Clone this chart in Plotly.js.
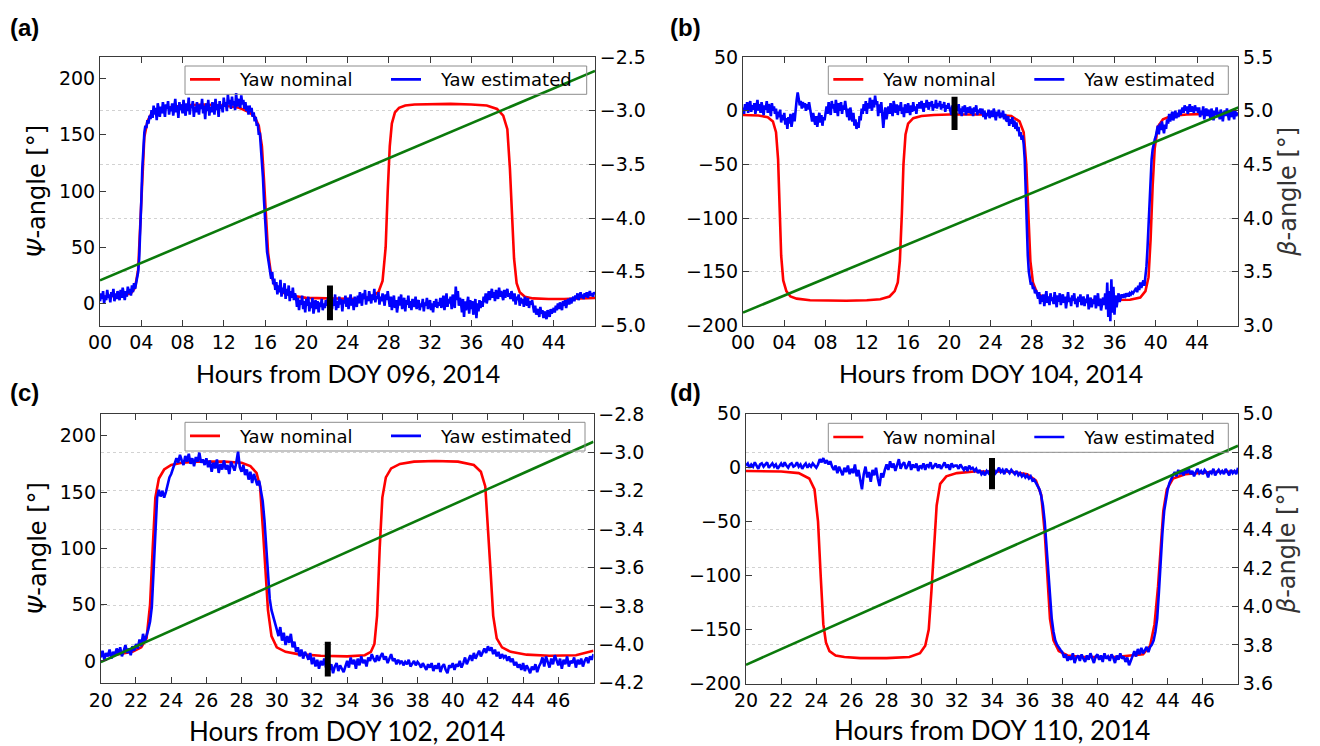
<!DOCTYPE html>
<html><head><meta charset="utf-8">
<script src="https://cdn.plot.ly/plotly-3.0.1.min.js"></script>
<style>html,body{margin:0;padding:0;background:#fff;}#chart{width:1320px;height:746px;}</style>
</head><body><div id="chart"></div>
<script>
// ---------- tick labels ----------
const hourTicksAB = [0,4,8,12,16,20,24,28,32,36,40,44];
const hourLabelsAB = ['00','04','08','12','16','20','24','28','32','36','40','44'];
const hourTicksCD = [20,22,24,26,28,30,32,34,36,38,40,42,44,46];
const hourLabelsCD = ['20','22','24','26','28','30','32','34','36','38','40','42','44','46'];
const psiTicksAC = [0,50,100,150,200];
const yawTicksBD = [-200,-150,-100,-50,0,50];
const betaTicksA = [-5.0,-4.5,-4.0,-3.5,-3.0,-2.5];
const betaTicksB = [3.0,3.5,4.0,4.5,5.0,5.5];
const betaTicksC = [-4.2,-4.0,-3.8,-3.6,-3.4,-3.2,-3.0,-2.8];
const betaTicksD = [3.6,3.8,4.0,4.2,4.4,4.6,4.8,5.0];

// ---------- panel (a) DOY 096 ----------
const nomAx = [0,2,3,3.4,3.7,3.9,4.1,4.3,4.6,5.0,5.6,6.5,8,10,12,13.5,14.5,15.0,15.4,15.7,15.9,16.1,16.3,16.6,17.0,17.6,18.5,20,23,25,26.3,27.0,27.4,27.7,27.9,28.1,28.3,28.6,29.0,29.6,30.5,32,34,36,37.5,38.5,39.1,39.5,39.75,39.95,40.15,40.4,40.7,41.2,42,43.5,45,48];
const nomAy = [6,7,9,14,30,70,120,148,162,169,172,174,176,177,176,174,170,166,158,140,110,75,45,25,15,10,7,5,4,4,6,10,20,50,100,140,160,170,174,176,177,177.5,177.5,177,176,173,167,155,120,80,40,18,10,6,4.5,4,4,5];
// estimated yaw, one value every 0.1 h from 0.0 h
const estA = [
 2,9,4,11,0,7,3,12,5,8, 1,10,6,13,2,9,4,11,7,3, 12,5,14,8,3,11,6,15,9,13, 7,16,10,18,13,
 18,24,28,40,60,90,120,140,152,158,156,163,160,167,164,
 172,165,176,168,174,163,178,170,166,175, 169,179,171,166,177,173,180,168,175,171,
 178,167,174,182,170,176,165,179,172,177, 169,181,173,167,178,171,183,168,176,174,
 180,166,175,170,179,172,168,177,173,182, 169,176,164,178,171,181,167,175,170,179,
 174,168,182,172,177,166,180,173,176,170, 183,175,179,171,186,177,181,173,184,176,
 180,172,187,175,182,178,174,185,177,181, 173,179,171,176,168,
 176,170,174,166,170,162,166,158,160,150,152,140,128,112,92,75,58,46,40,33,30,22,28,17,22,
 12,19,8,16,10,21,6,14,9,18, 4,13,7,16,2,11,5,14,3,9, 6,
 -3,5,-6,3,-1,7,-5,2,-8, 4,-2,6,-7,1,-4,5,-9,0,3, -5,2,-8,1,-3,4,-6,0,-4,3,-2,
 5,-3,7,0,-5,4,-2,8,-6,
 2,-4,6,-1,4,-7,3,0,7,-3, 5,-5,2,8,-2,4,-6,6,1,-3, 7,0,10,3,-2,9,4,12,-1,6,
 2,11,5,0,8,3,13,1,7,4, 10,-1,6,2,9,5,-2,8,3,11, 4,-3,6,-6,2,7,-4,3,-8,1,
 6,-2,8,-5,0,5,-7,3,-1,7, -4,2,-6,4,0,-3,6,-5,1,3, -6,0,-3,4,-7,1,-2,5,-5,-1,
 3,-6,0,-8,2,-3,4,-4,1,-2, 5,-4,2,7,-6,3,9,-3,4,0, 6,-5,8,2,-4,15,3,11,-2,5,
 1,-8,4,-12,2,-6,0,6,-9,3, -5,2,-10,-3,4,-13,0,-7,3,-4, 2,-3,6,1,9,0,7,11,3,8,
 13,5,10,2,12,7,4,14,6,11, 8,3,12,5,10,13,6,9,4,11, 7,2,9,-1,6,3,8,-2,5,0,
 4,-3,6,1,-2,5,-4,2,-1,3, -4,-8,-2,-10,-5,-7,-12,-3,-9,-6, -13,-7,-11,-14,-6,-10,-12,-5,-9,-7,
 -4,-8,-2,-6,0,-5,1,-3,-6,2, -2,3,-4,1,4,-1,5,0,3,6, 2,7,4,9,3,6,10,5,8,4,
 9,6,10,5,8,11,7,9,6,10,8];
const markAx = [22.3,22.3], markAy = [-15,16];
const betaAx = [0,48], betaAy = [-4.58,-2.63];

// ---------- panel (b) DOY 104 ----------
const nomBx = [0,1.5,2.4,2.9,3.2,3.4,3.55,3.7,3.9,4.2,4.6,5.2,6.5,8,10,12,13.3,14.2,14.7,15.0,15.2,15.4,15.55,15.75,16.0,16.5,17.3,18.5,20,24,26,26.8,27.2,27.45,27.65,27.85,28.1,28.5,29.2,30.5,33,36,37.5,38.5,39.0,39.3,39.5,39.7,39.9,40.2,40.7,41.5,43,45,48];
const nomBy = [-4,-4.5,-6,-10,-20,-45,-90,-135,-158,-168,-173,-175,-176.5,-177,-177,-176.5,-175.5,-173,-168,-160,-140,-95,-50,-22,-12,-7,-5,-4,-3.5,-3.5,-5,-10,-20,-50,-100,-140,-160,-170,-174,-175.5,-176.5,-176.5,-176,-174,-168,-155,-120,-70,-35,-15,-8,-5,-3.5,-3,-3];
const estB = [
 3,-3,6,0,8,-2,4,9,-1,5, 1,7,-3,4,10,0,6,-2,8,2, -4,5,1,9,-2,6,3,-5,7,0, 4,
 -3,2,-8,-1,-6,1,-11,-4,-9, -2,-13,-7,-17,-6,-12,-3,-15,-8,-2,-10,
 4,10,17,12,5,9,2,8,3, 7,0,6,1,8,-1,
 -4,-10,-2,-8, -13,-5,-15,-7,-2,-11,-4,-14,-6,-9,0,
 4,-3,8,1,-4,9,2,6,-2, 10,3,-5,7,0,8,-3,5,1,9,-2,
 -6,2,-9,3,-4,-10,-2,-14,-8, -17,-11,-16,-5,-9,2,-3,
 6,0,9, -3,7,2,12,4,0,10,3,14,6,9,
 -5,6,-2,8,-10,-16,-4,3,-8,-1,
 4,-3,7,0,-5,9,1,-2,6, -4,5,0,8,-3,3,-6,6,1,-2, 7,2,-4,5,-1,8,0,4,-3,6,2,
 8,2,9,4,-1,7,3,10,5, 1,8,4,9,0,6,3,10,2,7, 4,9,1,6,3,8,-1,5,2,7,4,
 1,-4,5,-2,3,-6,4,0,6, -3,2,-5,4,-1,5,-4,1,3,-2, 4,-3,2,-5,3,-1,5,-4,1,-2,2,
 -3,2,-6,0,-8,-2,-5,1,-7, -4,0,-6,2,-3,-9,-1,-5,1,-7, -2,-6,0,-8,-3,-9,
 -10,-5,-14,-8,-12,-6,-15,-9,-17,-11,
 -19,-15,-24,-20,-27,-23,-31,
 -45,-75,-110,-135,-150,-158,-162,-160,-166,-164,-170,-167,-172,
 -175,-169,-180,-172,
 -178,-171,-182,-174,-168,-179,-173,-181,-170,-177, -174,-180,-169,-176,-183,-172,-178,-170,-181,-175,
 -171,-179,-173,-184,-176,-169,-178,-174,-182,-172, -177,-170,-180,-175,-183,-173,-178,-171,-181,-176,
 -173,-182,-175,-179,-171,-185,-177,-174,-183,-176, -180,-172,-184,-177,-170,-182,-175,-186,-178,-174,-181,
 -170,-185,-160,-192,-168,-196,-157,-188,-164,-190,-172,-183,-176,-170,-178,
 -173,-171,-174,-172,-173,-170,-172,-171,-173,-170,-171,-169,-170,-168,-167,
 -165,-169,-163,-167,-160,-165,-162,-158,-163,-155,
 -145,-128,-105,-80,-58,-45,-36,-30,-27,-24,
 -20,-14,-22,-12,-18,-10,-16,-21,-13,-17,
 -8,-12,-3,-10,-5,-1,-9,-4,0,-7,-2,-6,1,-4,0,
 3,-2,5,0,4,-3,2,6,-1,4,1,-2,5,0,3,
 -2,3,-6,0,-4,4,-8,-1,2, -5,1,-3,-7,2,-2,-9,0,-4,3, -6,-1,-8,1,-3,-10,-2,0,-5,2,
 -4,-9,-1,-6,1,-3,-8,0,-5,-2,-4];
const markBx = [20.5,20.5], markBy = [-18,13];
const betaBx = [0,48], betaBy = [3.12,5.03];

// ---------- panel (c) DOY 102 ----------
const nomCx = [20,21,21.8,22.3,22.6,22.8,22.95,23.1,23.3,23.6,24.0,24.6,25.5,27,28,28.5,28.85,29.05,29.2,29.35,29.5,29.7,30.0,30.5,31.2,32.5,34,35.0,35.35,35.55,35.7,35.85,36.0,36.2,36.5,37.0,37.8,39,40.3,41.2,41.6,41.85,42.0,42.15,42.3,42.5,42.8,43.3,44.2,45.5,47,48];
const nomCy = [5,6,8,12,20,50,100,145,162,170,174,176,177,177,176,173,167,155,120,80,45,22,12,8,6,4.5,4,5,8,15,40,100,145,163,171,175,177,177.5,177,174,168,155,120,80,40,20,12,8,5.5,4.5,5,9];
const estC = [
 3,9,1,7,4,10,2,8,5,11, 6,12,4,9,14,7,11,5,13,9, 15,11,19,13,24,17,22,28,35,48,
 80,120,145,152,146,151,145,150,158,163, 166,171,174,180,176,183,178,174,182,177,
 184,175,180,173,181,177,185,176,179,174, 180,172,178,168,176,171,179,167,175,170,
 178,170,174,166,177,172,169,176,186,172, 168,174,165,170,161,168,158,166,160,156,
 160,152,142,125,100,75,55,45,40,34, 28,22,30,18,25,14,22,16,24,12,
 17,8,12,4,10,2,8,5,1,7, -3,3,-5,1,-7,0,-4,2,-6,-1, -8,-3,-11,-5,-2,-9,-4,-7,-10,-5,
 0,-6,3,-3,1,-7,2,-4,4,-2, 1,-5,3,0,6,2,-1,5,0,4, 7,1,4,-2,3,6,0,2,-3,1,
 -2,0,-4,-1,-3,1,-5,-2,0,-4, -1,-3,-6,-2,-5,-8,-3,-6,-2,-9, -4,-7,-2,-10,-5,-3,-8,-11,-4,-6,
 -2,-8,-3,-5,0,-6,-2,3,-3,1, 5,0,7,2,6,9,4,8,11,7, 13,9,12,6,10,4,8,2,6,3,
 5,0,4,-1,2,-4,-1,-6,-3,-8, -2,-9,-4,-7,-11,-5,-8,-3,-10,-5, -2,3,-5,4,-1,-6,2,-3,5,0,
 -4,2,-7,1,-3,4,-5,0,-2,3, -6,1,-3,2,-5,0,3,-2,4,1,6];
const markCx = [32.9,32.9], markCy = [-14,17];
const betaCx = [20,48], betaCy = [-4.093,-2.945];

// ---------- panel (d) DOY 110 ----------
const nomDx = [20,22,23.0,23.6,23.9,24.1,24.25,24.4,24.55,24.75,25.1,25.6,26.5,28,29.3,29.9,30.2,30.4,30.55,30.7,30.85,31.05,31.4,32.0,33,35,36.0,36.5,36.8,37.0,37.15,37.3,37.5,37.8,38.3,39.2,41,42.6,43.0,43.25,43.45,43.6,43.75,43.95,44.3,45,46.5,48];
const nomDy = [-3,-3.5,-5,-10,-20,-50,-100,-145,-162,-170,-174,-175.5,-176.5,-176.5,-175.5,-172,-165,-150,-115,-70,-35,-15,-8,-5,-3.5,-3.5,-6,-12,-25,-60,-100,-140,-160,-170,-174,-175.5,-175.5,-173,-165,-145,-110,-70,-40,-20,-10,-6,-4,-3.5];
const estD = [
 2,4,0,3,1,5,2,-1,3,4, 1,3,5,0,2,4,1,3,-1,2, 4,1,5,2,0,3,4,1,2,5, 1,3,-1,2,4,0,3,1,4,2,
 0,3,8,5,9,4,7,3,6,1, -2,2,-5,1,-3,-7,0,-4,2,-6, -1,-5,3,-8,-2,-11,-20,-6,1,-9,
 -4,-13,-2,-7,0,-10,-17,-5,-9,-2, 3,-2,6,0,4,-3,2,8,-1,3, 5,-1,2,6,-2,3,0,4,-3,2,
 0,4,-2,3,1,5,-1,2,4,0, 3,-1,2,5,0,3,-2,4,1,2, 2,-1,3,0,-2,1,-3,2,-1,0,
 -3,-1,-5,-2,-6,-4,-7,-3,-5,-2, -4,-1,-5,-3,0,-4,-2,-6,-1,-3, -5,-2,-4,-6,-3,-7,-5,-8,-6,-9,
 -7,-10,-8,-12,-11,-14,-16,-20,-26,-35, -50,-75,-100,-122,-140,-152,-160,-164,-167,-169,
 -171,-176,-173,-179,-175,-178,-172,-181,-176,-174, -179,-173,-177,-180,-174,-178,-172,-176,-181,-175,
 -173,-178,-174,-180,-172,-177,-175,-179,-173,-176, -181,-174,-178,-172,-177,-175,-180,-176,-183,-179,
 -174,-170,-175,-168,-173,-167,-172,-169,-166,-171, -166,-164,-160,-152,-140,-115,-85,-60,-40,-28,
 -20,-14,-10,-7,-4,-8,-2,-6,-3,-7, -2,-5,-1,-6,-3,-8,-4,-1,-5,-3, -6,-2,-4,-9,-3,-5,-1,-7,-4,-2,
 -5,-3,-6,-1,-4,-7,-2,-5,-3,-6,0];
const markDx = [34.0,34.0], markDy = [-20,9];
const betaDx = [20,48], betaDy = [3.697,4.834];

// sampling grid of the estimated yaw
function hours(start, step, n){ const a=[]; for(let i=0;i<n;i++) a.push(Math.round((start+step*i)*1000)/1000); return a; }

const W = 1320, H = 746;
const panels = [
 {x:'x', xn:'xaxis', y:'y', yn:'yaxis', y2:'y2', y2n:'yaxis2', lg:'legend', px:[100,595], py:[57,325.5],
  xr:[0,48], tv:hourTicksAB, tt:hourLabelsAB, yr:[-19.6,219.2], ytv:psiTicksAC, y2r:[-5.0,-2.5], y2tv:betaTicksA,
  nx:nomAx, ny:nomAy, est:estA, t0:0, mx:markAx, my:markAy, bx:betaAx, by:betaAy, leftTitle:true, rightTitle:false,
  box:[185,586.7,66,94.3], lab:'(a)', labPos:[8,27], xt:'Hours from DOY 096, 2014', xtY:373, xtSize:25},
 {x:'x2', xn:'xaxis2', y:'y3', yn:'yaxis3', y2:'y4', y2n:'yaxis4', lg:'legend2', px:[743,1238.3], py:[57,325.5],
  xr:[0,48], tv:hourTicksAB, tt:hourLabelsAB, yr:[-200,50], ytv:yawTicksBD, y2r:[3.0,5.5], y2tv:betaTicksB,
  nx:nomBx, ny:nomBy, est:estB, t0:0, mx:markBx, my:markBy, bx:betaBx, by:betaBy, leftTitle:false, rightTitle:true,
  box:[828.3,1228.3,66,94.3], lab:'(b)', labPos:[668,27], xt:'Hours from DOY 104, 2014', xtY:373, xtSize:25},
 {x:'x3', xn:'xaxis3', y:'y5', yn:'yaxis5', y2:'y6', y2n:'yaxis6', lg:'legend3', px:[100.8,593.5], py:[413.9,682.7],
  xr:[20,48], tv:hourTicksCD, tt:hourLabelsCD, yr:[-19.4,219.4], ytv:psiTicksAC, y2r:[-4.2,-2.8], y2tv:betaTicksC,
  nx:nomCx, ny:nomCy, est:estC, t0:20, mx:markCx, my:markCy, bx:betaCx, by:betaCy, leftTitle:true, rightTitle:false,
  box:[185,585,422.3,451], lab:'(c)', labPos:[8,392], xt:'Hours from DOY 102, 2014', xtY:731, xtSize:26},
 {x:'x4', xn:'xaxis4', y:'y7', yn:'yaxis7', y2:'y8', y2n:'yaxis8', lg:'legend4', px:[746,1238], py:[413.8,683.5],
  xr:[20,48], tv:hourTicksCD, tt:hourLabelsCD, yr:[-200,50], ytv:yawTicksBD, y2r:[3.6,5.0], y2tv:betaTicksD,
  nx:nomDx, ny:nomDy, est:estD, t0:20, mx:markDx, my:markDy, bx:betaDx, by:betaDy, leftTitle:false, rightTitle:true,
  box:[828.3,1228.3,423.3,452.3], lab:'(d)', labPos:[668,392], xt:'Hours from DOY 110, 2014', xtY:730, xtSize:26}
];

const tickFont = {family:'DejaVu Sans', size:19, color:'#000'};
const frame = '#3a3a3a';
const traces = [];
const layout = {width:W, height:H, margin:{l:0,r:0,t:0,b:0}, paper_bgcolor:'#fff', plot_bgcolor:'rgba(0,0,0,0)',
  showlegend:true, annotations:[], shapes:[], font:{family:'DejaVu Sans', color:'#000'}};

panels.forEach(p => {
  const xd = [p.px[0]/W, p.px[1]/W];
  const yd = [1 - p.py[1]/H, 1 - p.py[0]/H];
  layout[p.xn] = {domain:xd, anchor:p.y, range:p.xr, tickvals:p.tv, ticktext:p.tt, ticks:'inside', ticklen:6,
    tickcolor:frame, showline:true, linecolor:frame, linewidth:1, mirror:'ticks', showgrid:false, zeroline:false, tickfont:tickFont};
  layout[p.yn] = {domain:yd, anchor:p.x, range:p.yr, tickvals:p.ytv, ticks:'inside', ticklen:6, tickcolor:frame,
    showline:true, linecolor:frame, linewidth:1, showgrid:false, zeroline:false, tickfont:tickFont};
  if(p.leftTitle) layout[p.yn].title = {text:'<i>Ψ</i>-angle [°]', font:{family:'DejaVu Sans', size:24, color:'#000'}, standoff:6};
  layout[p.y2n] = {overlaying:p.y, side:'right', anchor:p.x, range:p.y2r, tickvals:p.y2tv, tickformat:'.1f',
    ticks:'inside', ticklen:6, tickcolor:frame, showline:true, linecolor:frame, linewidth:1,
    showgrid:true, gridcolor:'#d2d2d2', griddash:'dot', gridwidth:1, zeroline:false, tickfont:tickFont};
  if(p.rightTitle) layout[p.y2n].title = {text:'<i>β</i>-angle [°]', font:{family:'DejaVu Sans', size:24, color:'#333'}, standoff:6};
  const cy = (p.box[2]+p.box[3])/2;
  layout[p.lg] = {orientation:'h', x:p.box[0]/W, y:1 - (cy-19)/H, xanchor:'left', yanchor:'top',
    bgcolor:'rgba(255,255,255,0)', borderwidth:0, entrywidth:156,
    font:{family:'DejaVu Sans', size:18, color:'#000'}};
  layout.shapes.push({type:'rect', xref:'paper', yref:'paper', x0:p.box[0]/W, x1:p.box[1]/W, y0:1-p.box[3]/H, y1:1-p.box[2]/H,
    line:{color:'#8c8c8c', width:1}, fillcolor:'rgba(0,0,0,0)'});

  traces.push({type:'scatter', mode:'lines', x:p.nx, y:p.ny, xaxis:p.x, yaxis:p.y, name:'\u00a0\u00a0\u2009Yaw nominal',
    legend:p.lg, line:{color:'#ff0000', width:2.6}, hoverinfo:'skip'});
  traces.push({type:'scatter', mode:'lines', x:hours(p.t0, 0.1, p.est.length), y:p.est, xaxis:p.x, yaxis:p.y,
    name:'\u00a0\u00a0\u2009Yaw estimated', legend:p.lg, line:{color:'#0000ff', width:2.6}, hoverinfo:'skip'});
  traces.push({type:'scatter', mode:'lines', x:p.mx, y:p.my, xaxis:p.x, yaxis:p.y, showlegend:false,
    line:{color:'#000', width:6}, hoverinfo:'skip'});
  traces.push({type:'scatter', mode:'lines', x:p.bx, y:p.by, xaxis:p.x, yaxis:p.y2, showlegend:false,
    line:{color:'#0b7a0b', width:2.6}, hoverinfo:'skip'});

  layout.annotations.push({xref:'paper', yref:'paper', x:p.labPos[0]/W, y:1 - p.labPos[1]/H, xanchor:'left', yanchor:'middle',
    showarrow:false, text:'<b>'+p.lab+'</b>', font:{family:'Liberation Sans', size:24, color:'#000'}});
  layout.annotations.push({xref:'paper', yref:'paper', x:(p.px[0]+p.px[1])/2/W, y:1 - p.xtY/H, xanchor:'center', yanchor:'middle',
    showarrow:false, text:p.xt, font:{family:'Lato', size:p.xtSize, color:'#000'}});
});

Plotly.newPlot('chart', traces, layout, {staticPlot:true, displayModeBar:false});
</script></body></html>
